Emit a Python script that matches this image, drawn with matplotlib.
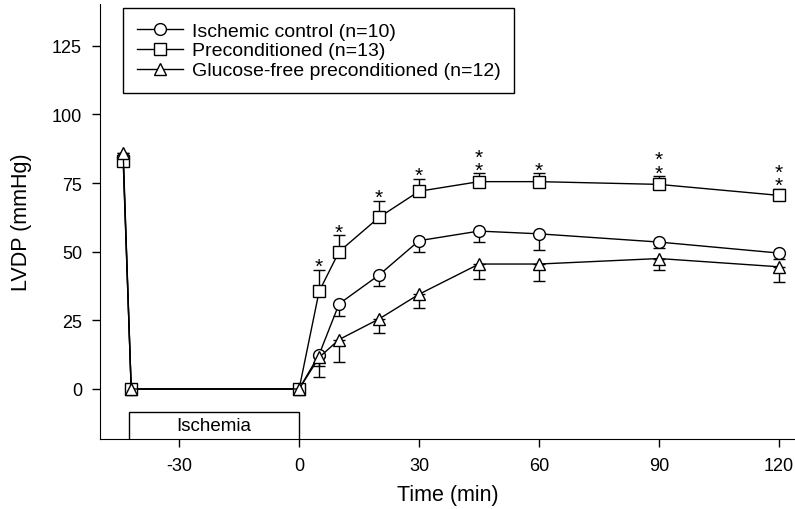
import numpy as np
import matplotlib
matplotlib.use('Agg')
import matplotlib.pyplot as plt
from matplotlib.patches import Rectangle

plt.rcParams['font.family'] = ['Liberation Sans', 'DejaVu Sans']
plt.rcParams['axes.unicode_minus'] = False

# time points (min); pre-ischemia, start of ischemia, end of ischemia, reperfusion
time = [-44, -42, 0, 5, 10, 20, 30, 45, 60, 90, 120]

control = [84, 0, 0, 12.5, 31, 41.5, 54, 57.5, 56.5, 53.5, 49.5]
control_err = [0, 0, 0, 4, 4.3, 4, 4.3, 4, 6, 2, 2]

precond = [83, 0, 0, 35.5, 50, 62.5, 72, 75.5, 75.5, 74.5, 70.5]
precond_err = [0, 0, 0, 8, 6, 6, 4.5, 3, 3, 3, 2.5]

glucfree = [86, 0, 0, 11.5, 18, 25.5, 34.5, 45.5, 45.5, 47.5, 44.5]
glucfree_err = [0, 0, 0, 7, 8.3, 5, 5, 5.5, 6.2, 4, 5.5]

# number of significance stars above the preconditioned group
stars = [0, 0, 0, 1, 1, 1, 1, 2, 1, 2, 2]

fig = plt.figure(figsize=(7.95, 5.10), dpi=100)
ax = fig.add_axes([0.1258, 0.1373, 0.874, 0.853])

zero = np.zeros(len(time))
ms = 8.5
# error bars (one-sided)
ax.errorbar(time, control, yerr=[control_err, zero], fmt='none', ecolor='black',
            elinewidth=1, capsize=4.5, capthick=1, zorder=2)
ax.errorbar(time, precond, yerr=[zero, precond_err], fmt='none', ecolor='black',
            elinewidth=1, capsize=4.5, capthick=1, zorder=2)
ax.errorbar(time, glucfree, yerr=[glucfree_err, zero], fmt='none', ecolor='black',
            elinewidth=1, capsize=4.5, capthick=1, zorder=2)

# lines with markers
ax.plot(time, control, '-o', color='black', mfc='white', mec='black', ms=ms, lw=1,
        label='Ischemic control (n=10)', zorder=3)
ax.plot(time, precond, '-s', color='black', mfc='white', mec='black', ms=ms - 0.5, lw=1,
        label='Preconditioned (n=13)', zorder=3)
ax.plot(time, glucfree, '-^', color='black', mfc='white', mec='black', ms=ms, lw=1,
        label='Glucose-free preconditioned (n=12)', zorder=3)

for t, v, e, n in zip(time, precond, precond_err, stars):
    if n > 0:
        ax.text(t, v + e - 2.3, '\n'.join(['*'] * n), ha='center', va='bottom',
                fontsize=15, linespacing=0.62)

# ischemia bar
ax.add_patch(Rectangle((-42.5, -20), 42.5, 11.7, fill=False, ec='black', lw=1, zorder=2))
ax.text(-21.25, -13.4, 'Ischemia', ha='center', va='center', fontsize=13.5)

ax.set_xlim(-49.8, 124)
ax.set_ylim(-18.2, 140.2)
ax.set_xticks([-30, 0, 30, 60, 90, 120])
ax.set_yticks([0, 25, 50, 75, 100, 125])
ax.tick_params(direction='out', length=6, width=1, labelsize=13, pad=7)
ax.spines['top'].set_visible(False)
ax.spines['right'].set_visible(False)
ax.set_xlabel('Time (min)', fontsize=15.5, labelpad=7)
ax.set_ylabel('LVDP (mmHg)', fontsize=15.5, labelpad=14)

leg = ax.legend(loc='upper left', bbox_to_anchor=(0.033, 0.99), borderaxespad=0,
                fontsize=14, frameon=True, fancybox=False, edgecolor='black',
                handlelength=2.4, borderpad=0.7, labelspacing=0.12,
                handletextpad=0.45, framealpha=1)
leg.get_frame().set_linewidth(1)

fig.savefig('out.png', dpi=100)
